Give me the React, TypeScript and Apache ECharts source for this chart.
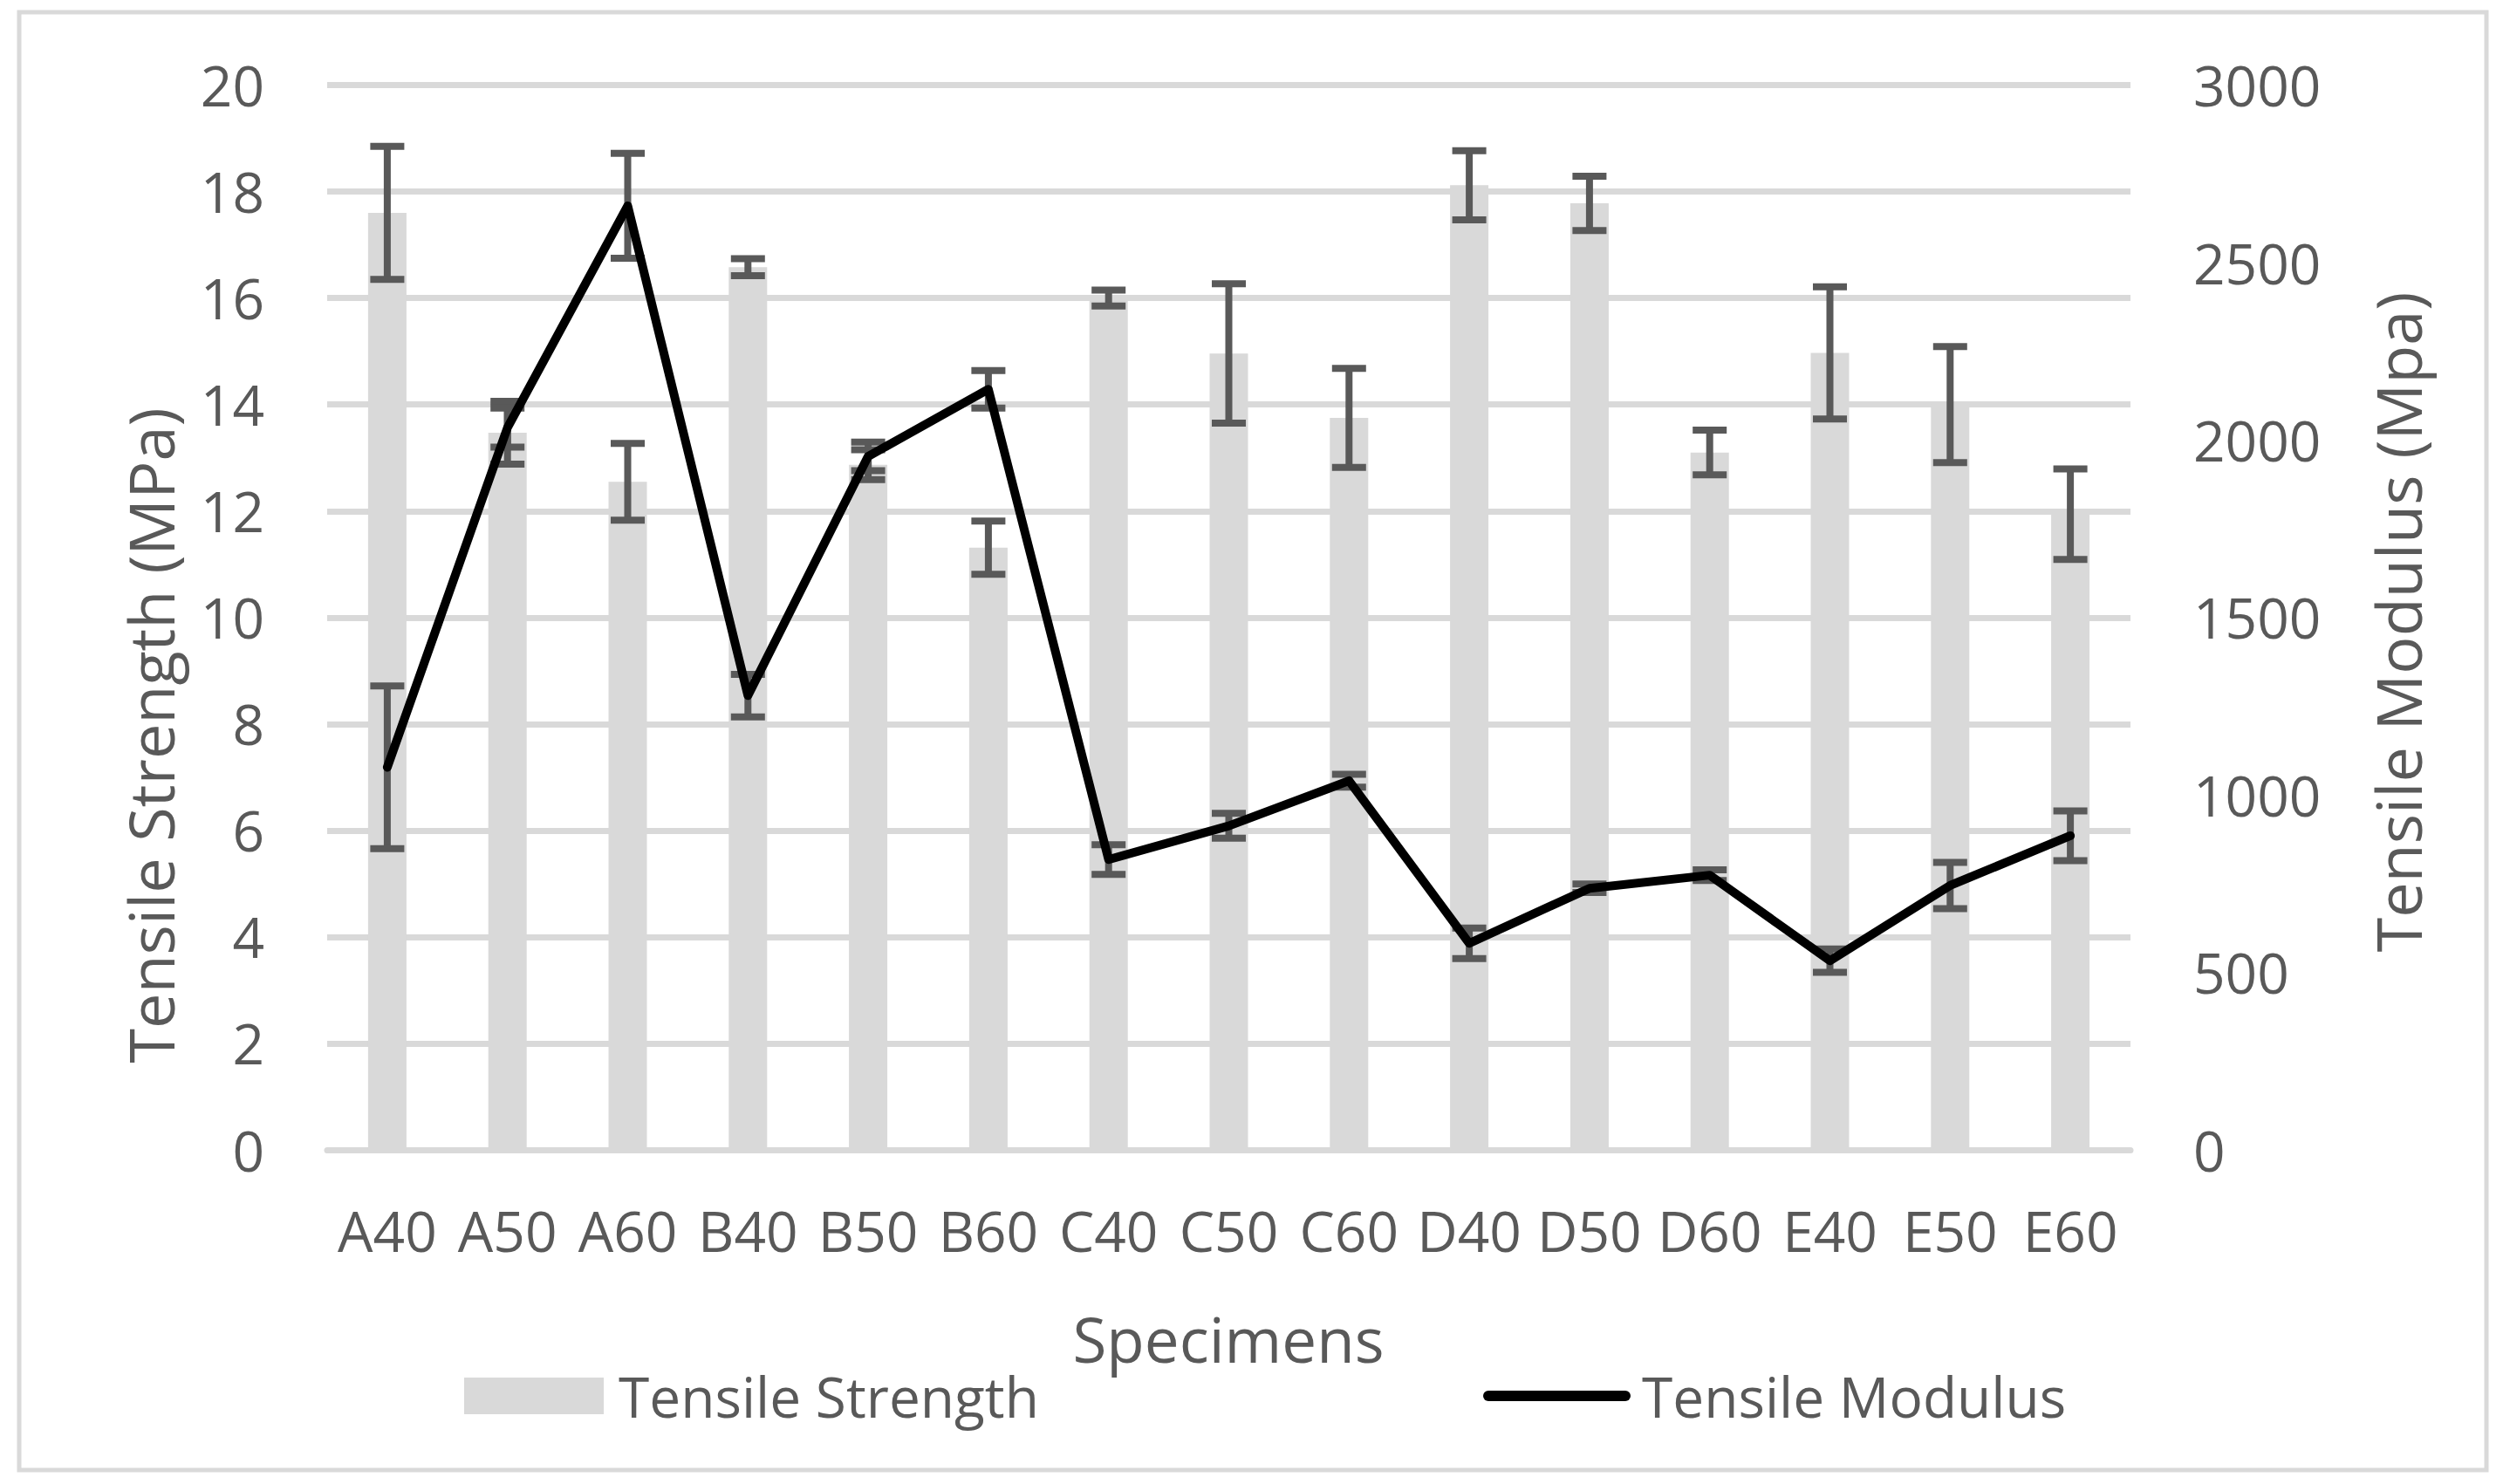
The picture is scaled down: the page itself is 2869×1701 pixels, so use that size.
import React, { useEffect, useRef } from "react";
import * as echarts from "echarts";

const categories = ["A40", "A50", "A60", "B40", "B50", "B60", "C40", "C50", "C60", "D40", "D50", "D60", "E40", "E50", "E60"];
const strength = [17.6, 13.47, 12.55, 16.58, 12.87, 11.31, 16.0, 14.96, 13.75, 18.12, 17.78, 13.1, 14.97, 14.0, 11.94];
const strengthErr = [1.25, 0.59, 0.72, 0.16, 0.28, 0.5, 0.15, 1.31, 0.93, 0.65, 0.51, 0.42, 1.24, 1.09, 0.85];
const modulus = [1078, 2035, 2660, 1280, 1954, 2143, 818, 913, 1040, 582, 737, 774, 533, 745, 885];
const modulusErr = [229, 55, 148, 60, 40, 53, 42, 35, 18, 43, 12, 15, 33, 65, 70];
const leftTicks = { min: 0, max: 20, interval: 2 };
const rightTicks = { min: 0, max: 3000, interval: 500 };

const FONT = "'Open Sans', 'Noto Sans', sans-serif";
const GREY_TEXT = "#595959";
const GRID_GREY = "#d9d9d9";

function errorRenderer(params: any, api: any) {
  const x = api.value(0);
  const lo = api.value(1);
  const hi = api.value(2);
  const top = api.coord([x, hi]);
  const bot = api.coord([x, lo]);
  const hw = 19.5;
  const st = { stroke: "#595959", lineWidth: 8 };
  return {
    type: "group",
    children: [
      { type: "line", shape: { x1: top[0], y1: top[1], x2: bot[0], y2: bot[1] }, style: st },
      { type: "line", shape: { x1: top[0] - hw, y1: top[1], x2: top[0] + hw, y2: top[1] }, style: st },
      { type: "line", shape: { x1: bot[0] - hw, y1: bot[1], x2: bot[0] + hw, y2: bot[1] }, style: st },
    ],
  };
}

export default function App() {
  const ref = useRef<HTMLDivElement>(null);
  useEffect(() => {
    if (!ref.current) return;
    const chart = echarts.init(ref.current, undefined, { renderer: "svg" });
    const strengthErrData = categories.map((_, i) => [i, strength[i] - strengthErr[i], strength[i] + strengthErr[i]]);
    const modulusErrData = categories.map((_, i) => [i, modulus[i] - modulusErr[i], modulus[i] + modulusErr[i]]);
    const textStyle = { fontFamily: FONT, color: GREY_TEXT, fontSize: 64 };
    chart.setOption({
      animation: false,
      backgroundColor: "#ffffff",
      grid: { left: 375, right: 427, top: 97.6, bottom: 383, containLabel: false },
      legend: [
        {
          data: ["Tensile Strength"],
          left: 527,
          top: 1563,
          itemWidth: 160,
          itemHeight: 42,
          icon: "rect",
          selectedMode: false,
          textStyle: { ...textStyle, padding: [0, 0, 0, 12] },
        },
        {
          data: ["Tensile Modulus"],
          left: 1695,
          top: 1563,
          itemWidth: 169,
          itemHeight: 12,
          icon: "path://M6,0 L163,0 A6,6 0 0 1 163,12 L6,12 A6,6 0 0 1 6,0 Z",
          selectedMode: false,
          textStyle: { ...textStyle, padding: [0, 0, 0, 8] },
        },
      ],
      xAxis: {
        type: "category",
        data: categories,
        boundaryGap: true,
        axisLine: { show: true, lineStyle: { color: GRID_GREY, width: 7 } },
        axisTick: { show: false },
        axisLabel: { ...textStyle, margin: 60, interval: 0 },
      },
      yAxis: [
        {
          type: "value",
          position: "left",
          min: leftTicks.min,
          max: leftTicks.max,
          interval: leftTicks.interval,
          axisLine: { show: false },
          axisTick: { show: false },
          axisLabel: { ...textStyle, margin: 72, formatter: (v: number) => String(v) },
          splitLine: { show: true, lineStyle: { color: GRID_GREY, width: 7 } },
        },
        {
          type: "value",
          position: "right",
          min: rightTicks.min,
          max: rightTicks.max,
          interval: rightTicks.interval,
          axisLine: { show: false },
          axisTick: { show: false },
          axisLabel: { ...textStyle, margin: 72, formatter: (v: number) => String(v) },
          splitLine: { show: false },
        },
      ],
      graphic: [
        {
          type: "rect",
          shape: { x: 22, y: 14, width: 2828, height: 1671 },
          style: { fill: "none", stroke: GRID_GREY, lineWidth: 5 },
          silent: true,
        },
        {
          type: "text",
          x: 172,
          y: 843,
          rotation: Math.PI / 2,
          style: {
            text: "Tensile Strength (MPa)",
            fontFamily: FONT,
            fontSize: 72,
            fill: GREY_TEXT,
            align: "center",
            verticalAlign: "middle",
            textAlign: "center",
            textVerticalAlign: "middle",
          },
        },
        {
          type: "text",
          x: 2748,
          y: 713,
          rotation: Math.PI / 2,
          style: {
            text: "Tensile Modulus (Mpa)",
            fontFamily: FONT,
            fontSize: 72,
            fill: GREY_TEXT,
            align: "center",
            verticalAlign: "middle",
            textAlign: "center",
            textVerticalAlign: "middle",
          },
        },
        {
          type: "text",
          x: 1408,
          y: 1534,
          style: {
            text: "Specimens",
            fontFamily: FONT,
            fontSize: 71,
            fill: GREY_TEXT,
            align: "center",
            verticalAlign: "middle",
            textAlign: "center",
            textVerticalAlign: "middle",
          },
        },
      ],
      series: [
        {
          type: "bar",
          name: "Tensile Strength",
          yAxisIndex: 0,
          data: strength,
          barWidth: 44,
          itemStyle: { color: GRID_GREY },
          z: 2,
        },
        {
          type: "custom",
          name: "Strength error",
          yAxisIndex: 0,
          data: strengthErrData,
          encode: { x: 0, y: [1, 2] },
          renderItem: errorRenderer,
          z: 3,
          silent: true,
        },
        {
          type: "custom",
          name: "Modulus error",
          yAxisIndex: 1,
          data: modulusErrData,
          encode: { x: 0, y: [1, 2] },
          renderItem: errorRenderer,
          z: 4,
          silent: true,
        },
        {
          type: "line",
          name: "Tensile Modulus",
          yAxisIndex: 1,
          data: modulus,
          symbol: "none",
          lineStyle: { color: "#000000", width: 10, join: "round", cap: "round" },
          itemStyle: { color: "#000000" },
          z: 5,
        },
      ],
    });
    return () => chart.dispose();
  }, []);
  return (
    <div
      ref={ref}
      style={{ position: "fixed", left: 0, top: 0, width: 2869, height: 1701, background: "#fff" }}
    />
  );
}
